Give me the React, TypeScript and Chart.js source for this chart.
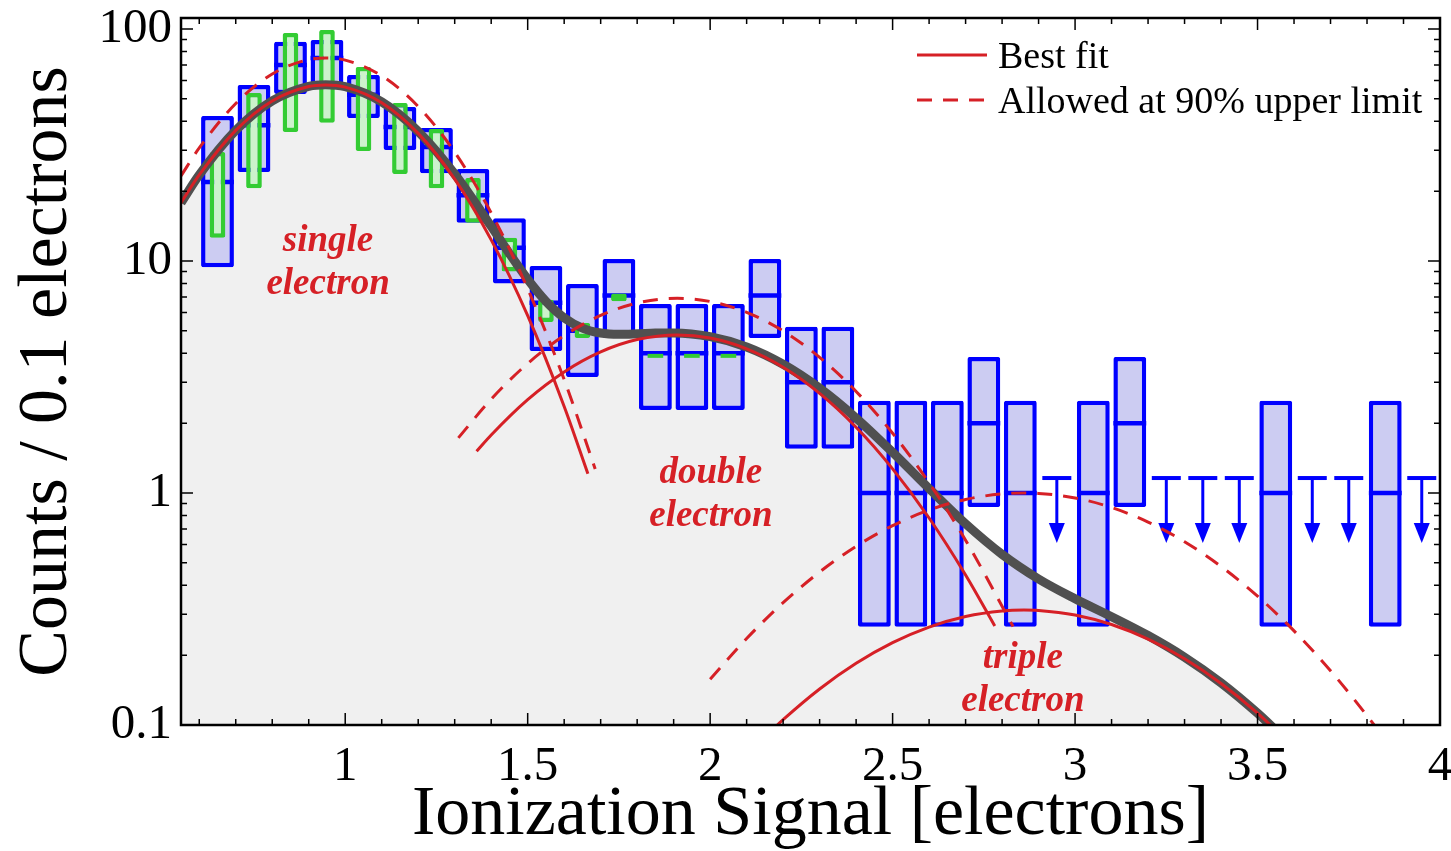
import { useEffect, useRef } from 'react';
import { Chart, registerables } from 'chart.js';

Chart.register(...registerables);

const SERIF = "'Liberation Serif', 'Times New Roman', serif";
const RED = 'rgb(214, 32, 38)';
const BLUE = '#0000ff';
const BLUE_FILL = '#ccccf2';
const GREEN = '#33cc33';
const GREEN_FILL = '#ccf2cc';
const GRAY_LINE = '#505050';
const GRAY_FILL = '#f0f0f0';

// Axis ticks
const X_TICKS = [1, 1.5, 2, 2.5, 3, 3.5, 4];
const X_TICK_LABELS = ['1', '1.5', '2', '2.5', '3', '3.5', '4'];
const Y_TICKS = [0.1, 1, 10, 100];
const Y_TICK_LABELS = ['0.1', '1', '10', '100'];

// Measured histogram: bin centres, counts and uncertainty band
const BIN_X = [0.65, 0.75, 0.85, 0.95, 1.05, 1.15, 1.25, 1.35, 1.45, 1.55, 1.65, 1.75, 1.85, 1.95, 2.05, 2.15, 2.25, 2.35, 2.45, 2.55, 2.65, 2.75, 2.85, 3.05, 3.15, 3.55, 3.85];
const BIN_COUNTS = [21.9, 38.5, 70, 75, 52, 37.8, 31, 19.2, 11.4, 6.6, 5.0, 7.1, 4, 4, 4, 7.1, 3, 3, 1, 1, 1, 2, 1, 1, 2, 1, 1];
const BIN_LOW = [9.4, 24.2, 52.5, 56, 41.3, 30.1, 23.9, 14.6, 8.0, 4.09, 3.16, 4.66, 2.28, 2.28, 2.28, 4.66, 1.55, 1.55, 0.265, 0.265, 0.265, 0.87, 0.265, 0.265, 0.87, 0.265, 0.265];
const BIN_HIGH = [42.2, 57.4, 88.1, 89.7, 63.4, 46.1, 37.4, 24.9, 15.3, 9.52, 7.96, 10.2, 6.53, 6.53, 6.53, 10.2, 5.2, 5.2, 2.5, 2.5, 2.5, 3.86, 2.5, 2.5, 3.86, 2.5, 2.5];

// Empty bins: 90% upper limits
const LIMIT_X = [2.95, 3.25, 3.35, 3.45, 3.65, 3.75, 3.95];
const LIMIT_Y = [1.16, 1.16, 1.16, 1.16, 1.16, 1.16, 1.16];

// Second (green) band
const ALT_X = [0.65, 0.75, 0.85, 0.95, 1.05, 1.15, 1.25, 1.35, 1.45, 1.55, 1.65, 1.75];
const ALT_LOW = [12.6, 20.6, 36.0, 39.4, 29.8, 23.7, 20.6, 14.6, 9.0, 5.46, 4.66, 6.7];
const ALT_HIGH = [29.5, 53.0, 96.1, 99.1, 68.6, 48.0, 37.1, 22.8, 12.6, 6.8, 5.41, 7.25];
const ALT_FLAT_X = [1.85, 1.95, 2.05];
const ALT_FLAT_Y = [3.9, 3.9, 3.9];

// Single-electron component: best fit and 90% allowed
const SINGLE_X = [0.55, 0.6, 0.7, 0.8, 0.9, 0.946, 1.0, 1.1, 1.2, 1.3, 1.4, 1.5, 1.6, 1.665];
const SINGLE_FIT = [17.81, 23.49, 36.54, 48.96, 56.5, 57.4, 56.17, 48.09, 35.47, 22.53, 12.33, 5.81, 2.36, 1.21];
const SINGLE_MAX_X = [0.55, 0.6, 0.7, 0.8, 0.9, 0.946, 1.0, 1.1, 1.2, 1.3, 1.4, 1.5, 1.6, 1.685];
const SINGLE_MAX = [23.27, 30.7, 47.75, 63.97, 73.82, 75, 73.39, 62.83, 46.34, 29.44, 16.11, 7.59, 3.08, 1.27];

// Double-electron component
const DOUBLE_X = [1.36, 1.4, 1.5, 1.6, 1.7, 1.8, 1.91, 2.0, 2.1, 2.2, 2.3, 2.4, 2.5, 2.6, 2.7, 2.78];
const DOUBLE_FIT = [1.513, 1.779, 2.527, 3.326, 4.056, 4.584, 4.8, 4.654, 4.182, 3.482, 2.686, 1.92, 1.271, 0.78, 0.443, 0.267];
const DOUBLE_MAX_X = [1.31, 1.4, 1.5, 1.6, 1.7, 1.8, 1.91, 2.0, 2.1, 2.2, 2.3, 2.4, 2.5, 2.6, 2.7, 2.83];
const DOUBLE_MAX = [1.728, 2.537, 3.615, 4.768, 5.824, 6.586, 6.9, 6.688, 6.006, 4.993, 3.844, 2.74, 1.809, 1.105, 0.626, 0.266];

// Triple-electron component
const TRIPLE_X = [2.17, 2.2, 2.3, 2.4, 2.5, 2.6, 2.7, 2.8, 2.86, 2.9, 3.0, 3.1, 3.2, 3.3, 3.4, 3.5, 3.6];
const TRIPLE_FIT = [0.0952, 0.1054, 0.1429, 0.1844, 0.2264, 0.2643, 0.2936, 0.3102, 0.313, 0.3117, 0.298, 0.271, 0.2344, 0.1929, 0.151, 0.1124, 0.0796];
const TRIPLE_MAX_X = [2.0, 2.1, 2.2, 2.3, 2.4, 2.5, 2.6, 2.7, 2.8, 2.86, 2.9, 3.0, 3.1, 3.2, 3.3, 3.4, 3.5, 3.6, 3.7, 3.81, 3.85];
const TRIPLE_MAX = [0.1574, 0.236, 0.3366, 0.4566, 0.5892, 0.7233, 0.8445, 0.938, 0.991, 1.0, 0.996, 0.9522, 0.8659, 0.749, 0.6163, 0.4824, 0.3592, 0.2544, 0.1714, 0.1047, 0.0863];

// Sum of the best-fit components
const TOTAL_X = [0.55, 0.6, 0.7, 0.8, 0.9, 0.946, 1.0, 1.1, 1.2, 1.3, 1.4, 1.45, 1.5, 1.55, 1.6, 1.65, 1.7, 1.75, 1.8, 1.85, 1.9, 2.0, 2.1, 2.2, 2.3, 2.4, 2.5, 2.6, 2.7, 2.8, 2.9, 3.0, 3.1, 3.2, 3.3, 3.4, 3.5, 3.6];
const TOTAL = [17.81, 23.5, 36.56, 49.0, 56.6, 57.54, 56.37, 48.48, 36.17, 23.69, 14.11, 10.76, 8.34, 6.7, 5.69, 5.138, 4.891, 4.829, 4.852, 4.888, 4.895, 4.718, 4.259, 3.587, 2.829, 2.104, 1.497, 1.044, 0.737, 0.544, 0.426, 0.35, 0.293, 0.243, 0.196, 0.152, 0.1124, 0.0796];

// Component annotations (x centre, baseline of first line)
const LABEL_TEXT = [['single', 'electron'], ['double', 'electron'], ['triple', 'electron']];
const LABEL_X = [0.953, 2.002, 2.857];
const LABEL_Y = [11.07, 1.104, 0.176];

const LEGEND_TEXT = ['Best fit', 'Allowed at 90% upper limit'];
const LEGEND_DASHED = [false, true];

const DASH = [15, 11];

const pts = (xs: number[], ys: number[]) => xs.map((x, i) => ({ x, y: ys[i] }));

const curve = (xs: number[], ys: number[], dashed: boolean) => ({
  type: 'line',
  data: pts(xs, ys),
  borderColor: RED,
  borderWidth: 3,
  borderDash: dashed ? DASH : [],
  pointRadius: 0,
  fill: false,
  cubicInterpolationMode: 'monotone',
  clip: 0,
  order: dashed ? 4 : 3,
});

const framePlugin = {
  id: 'frameTicks',
  afterDraw(chart: any) {
    const { ctx, chartArea: a, scales } = chart;
    const xs = scales.x;
    const ys = scales.y;
    ctx.save();
    ctx.strokeStyle = '#000';
    ctx.lineWidth = 1.5;
    ctx.beginPath();
    for (let i = 6; i <= 40; i++) {
      const px = xs.getPixelForValue(i / 10);
      const len = i % 5 === 0 ? 12 : 6;
      ctx.moveTo(px, a.bottom);
      ctx.lineTo(px, a.bottom - len);
      ctx.moveTo(px, a.top);
      ctx.lineTo(px, a.top + len);
    }
    for (let e = -1; e <= 2; e++) {
      for (let k = 1; k <= 9; k++) {
        const v = k * Math.pow(10, e);
        if (v < ys.min * 0.999 || v > ys.max) continue;
        const py = ys.getPixelForValue(v);
        const len = k === 1 ? 12 : 6;
        ctx.moveTo(a.left, py);
        ctx.lineTo(a.left + len, py);
        ctx.moveTo(a.right, py);
        ctx.lineTo(a.right - len, py);
      }
    }
    ctx.stroke();
    ctx.lineWidth = 2.5;
    ctx.strokeRect(a.left, a.top, a.right - a.left, a.bottom - a.top);
    ctx.restore();
  },
};

const limitPlugin = {
  id: 'upperLimits',
  beforeDatasetsDraw(chart: any) {
    const { ctx, scales } = chart;
    ctx.save();
    ctx.strokeStyle = BLUE;
    ctx.fillStyle = BLUE;
    LIMIT_X.forEach((xv, i) => {
      const px = scales.x.getPixelForValue(xv);
      const py = scales.y.getPixelForValue(LIMIT_Y[i]);
      ctx.lineWidth = 4;
      ctx.beginPath();
      ctx.moveTo(px - 14.5, py);
      ctx.lineTo(px + 14.5, py);
      ctx.stroke();
      ctx.lineWidth = 3;
      ctx.beginPath();
      ctx.moveTo(px, py);
      ctx.lineTo(px, py + 48);
      ctx.stroke();
      ctx.beginPath();
      ctx.moveTo(px - 8, py + 45);
      ctx.lineTo(px + 8, py + 45);
      ctx.lineTo(px, py + 65);
      ctx.closePath();
      ctx.fill();
    });
    ctx.restore();
  },
};

const textPlugin = {
  id: 'annotations',
  afterDatasetsDraw(chart: any) {
    const { ctx, scales, chartArea: a } = chart;
    ctx.save();
    ctx.fillStyle = RED;
    ctx.font = `italic bold 37px ${SERIF}`;
    ctx.textAlign = 'center';
    ctx.textBaseline = 'alphabetic';
    LABEL_TEXT.forEach((lines, i) => {
      const px = scales.x.getPixelForValue(LABEL_X[i]);
      const py = scales.y.getPixelForValue(LABEL_Y[i]);
      lines.forEach((t, j) => ctx.fillText(t, px, py + j * 43));
    });

    // legend
    const x0 = a.right - 523;
    const x1 = a.right - 453;
    const tx = a.right - 442;
    ctx.font = `38px ${SERIF}`;
    ctx.textAlign = 'left';
    LEGEND_TEXT.forEach((t, i) => {
      const ly = a.top + 37 + i * 45;
      ctx.strokeStyle = RED;
      ctx.lineWidth = 3;
      ctx.setLineDash(LEGEND_DASHED[i] ? DASH : []);
      ctx.beginPath();
      ctx.moveTo(x0, ly);
      ctx.lineTo(x1, ly);
      ctx.stroke();
      ctx.setLineDash([]);
      ctx.fillStyle = '#000';
      ctx.fillText(t, tx, ly + 13);
    });
    ctx.restore();
  },
};

export default function App() {
  const ref = useRef<HTMLCanvasElement>(null);

  useEffect(() => {
    const datasets: any[] = [
      {
        type: 'line',
        data: pts(TOTAL_X, TOTAL),
        fill: 'start',
        backgroundColor: GRAY_FILL,
        borderWidth: 0,
        pointRadius: 0,
        cubicInterpolationMode: 'monotone',
        clip: 0,
        order: 10,
      },
      {
        type: 'bar',
        data: BIN_X.map((x, i) => ({ x, y: [BIN_LOW[i], BIN_HIGH[i]] })),
        backgroundColor: BLUE_FILL,
        borderColor: BLUE,
        borderWidth: 4.5,
        borderSkipped: false,
        borderRadius: 2,
        inflateAmount: 0,
        grouped: false,
        categoryPercentage: 1,
        barPercentage: 0.9,
        order: 9,
      },
      {
        type: 'line',
        data: pts(BIN_X, BIN_COUNTS),
        showLine: false,
        pointStyle: 'line',
        pointRadius: 16.4,
        pointBorderWidth: 4.5,
        pointBorderColor: BLUE,
        pointBackgroundColor: BLUE,
        order: 8,
      },
      {
        type: 'bar',
        data: ALT_X.map((x, i) => ({ x, y: [ALT_LOW[i], ALT_HIGH[i]] })),
        backgroundColor: GREEN_FILL,
        borderColor: GREEN,
        borderWidth: 4.5,
        borderSkipped: false,
        borderRadius: 2,
        inflateAmount: 0,
        grouped: false,
        categoryPercentage: 1,
        barPercentage: 0.43,
        order: 7,
      },
      {
        type: 'line',
        data: pts(ALT_FLAT_X, ALT_FLAT_Y),
        showLine: false,
        pointStyle: 'line',
        pointRadius: 7.8,
        pointBorderWidth: 4,
        pointBorderColor: GREEN,
        pointBackgroundColor: GREEN,
        order: 6,
      },
      {
        type: 'line',
        data: pts(TOTAL_X, TOTAL),
        borderColor: GRAY_LINE,
        borderWidth: 9,
        pointRadius: 0,
        fill: false,
        cubicInterpolationMode: 'monotone',
        clip: 0,
        order: 5,
      },
      curve(SINGLE_MAX_X, SINGLE_MAX, true),
      curve(DOUBLE_MAX_X, DOUBLE_MAX, true),
      curve(TRIPLE_MAX_X, TRIPLE_MAX, true),
      curve(SINGLE_X, SINGLE_FIT, false),
      curve(DOUBLE_X, DOUBLE_FIT, false),
      curve(TRIPLE_X, TRIPLE_FIT, false),
    ];

    const chart = new Chart(ref.current as HTMLCanvasElement, {
      type: 'line',
      data: { datasets },
      options: {
        responsive: false,
        animation: false,
        devicePixelRatio: 1,
        events: [],
        layout: { autoPadding: false, padding: { top: 18, right: 11, left: 0, bottom: 0 } },
        plugins: { legend: { display: false }, tooltip: { enabled: false } },
        scales: {
          x: {
            type: 'linear',
            min: 0.55,
            max: 4.0,
            offset: false,
            grid: { display: false, drawTicks: false },
            border: { display: false },
            afterBuildTicks: (s: any) => {
              s.ticks = X_TICKS.map((v) => ({ value: v }));
            },
            afterFit: (s: any) => {
              s.height = 126;
              s.paddingLeft = 0;
              s.paddingRight = 0;
            },
            ticks: {
              autoSkip: false,
              maxRotation: 0,
              padding: 13,
              color: '#000',
              font: { family: SERIF, size: 49 },
              callback: (_v: any, i: number) => X_TICK_LABELS[i],
            },
            title: {
              display: true,
              text: 'Ionization Signal [electrons]',
              color: '#000',
              font: { family: SERIF, size: 70, lineHeight: 1 },
              padding: { top: 0, bottom: 0 },
            },
          },
          y: {
            type: 'logarithmic',
            min: 0.1,
            max: 111.5,
            grid: { display: false, drawTicks: false },
            border: { display: false },
            afterBuildTicks: (s: any) => {
              s.ticks = Y_TICKS.map((v) => ({ value: v }));
            },
            afterFit: (s: any) => {
              s.width = 181;
              s.paddingTop = 0;
              s.paddingBottom = 0;
            },
            ticks: {
              autoSkip: false,
              padding: 9,
              color: '#000',
              font: { family: SERIF, size: 49 },
              callback: (_v: any, i: number) => Y_TICK_LABELS[i],
            },
            title: {
              display: true,
              text: 'Counts / 0.1 electrons',
              color: '#000',
              font: { family: SERIF, size: 70, lineHeight: 1 },
              padding: { top: 13, bottom: 0 },
            },
          },
        },
      } as any,
      plugins: [limitPlugin, textPlugin, framePlugin],
    } as any);

    return () => chart.destroy();
  }, []);

  return (
    <div style={{ position: 'absolute', left: 0, top: 0, width: 1451, height: 851, background: '#fff' }}>
      <canvas ref={ref} width={1451} height={851} style={{ display: 'block' }} />
    </div>
  );
}
